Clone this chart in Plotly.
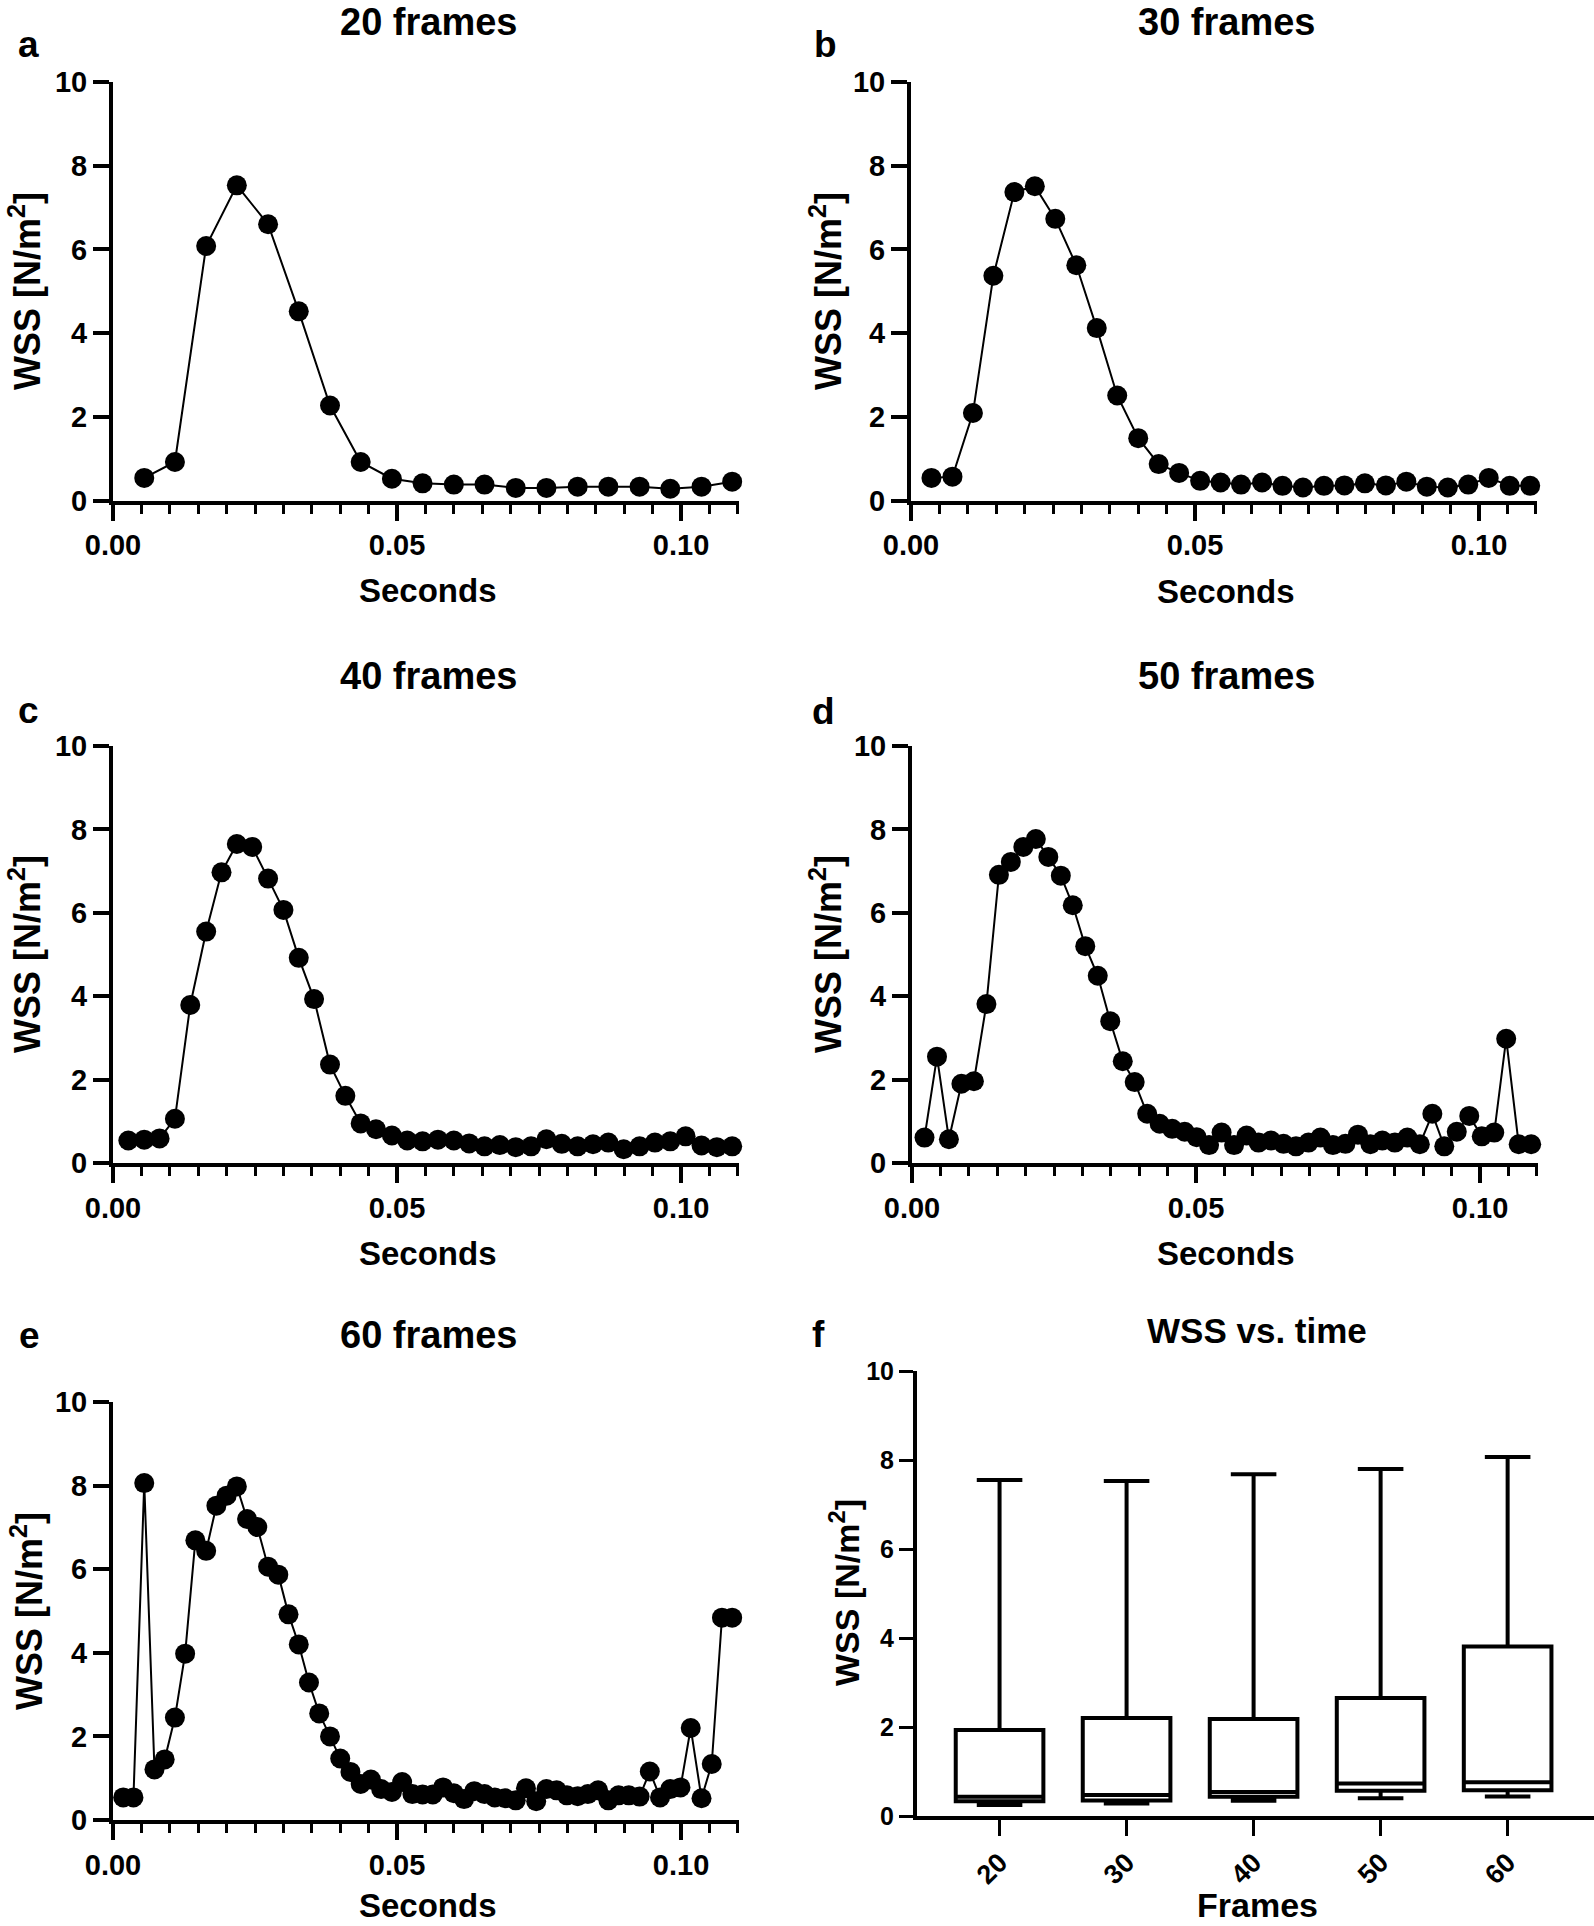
import plotly.graph_objects as go

# ---------------- data ----------------
T20 = [0.0055, 0.0109, 0.0164, 0.0218, 0.0273, 0.0327, 0.0382, 0.0436, 0.0491, 0.0545,
       0.0600, 0.0654, 0.0709, 0.0763, 0.0818, 0.0872, 0.0927, 0.0981, 0.1036, 0.1090]
WSS20 = [0.54, 0.92, 6.08, 7.53, 6.60, 4.52, 2.27, 0.92, 0.52, 0.41,
         0.38, 0.38, 0.30, 0.30, 0.33, 0.33, 0.33, 0.28, 0.33, 0.45]

T30 = [0.0036, 0.0073, 0.0109, 0.0145, 0.0182, 0.0218, 0.0254, 0.0291, 0.0327, 0.0363,
       0.0400, 0.0436, 0.0472, 0.0509, 0.0545, 0.0581, 0.0618, 0.0654, 0.0690, 0.0727,
       0.0763, 0.0799, 0.0836, 0.0872, 0.0908, 0.0945, 0.0981, 0.1017, 0.1054, 0.1090]
WSS30 = [0.54, 0.57, 2.09, 5.37, 7.37, 7.51, 6.73, 5.62, 4.12, 2.51,
         1.49, 0.87, 0.66, 0.47, 0.43, 0.38, 0.43, 0.35, 0.31, 0.35,
         0.36, 0.41, 0.36, 0.45, 0.33, 0.31, 0.38, 0.54, 0.35, 0.35]

T40 = [0.0027, 0.0055, 0.0082, 0.0109, 0.0136, 0.0164, 0.0191, 0.0218, 0.0245, 0.0273,
       0.0300, 0.0327, 0.0354, 0.0382, 0.0409, 0.0436, 0.0463, 0.0491, 0.0518, 0.0545,
       0.0572, 0.0600, 0.0627, 0.0654, 0.0681, 0.0709, 0.0736, 0.0763, 0.0790, 0.0818,
       0.0845, 0.0872, 0.0899, 0.0927, 0.0954, 0.0981, 0.1008, 0.1036, 0.1063, 0.1090]
WSS40 = [0.54, 0.56, 0.59, 1.06, 3.79, 5.55, 6.97, 7.65, 7.58, 6.82,
         6.07, 4.92, 3.93, 2.36, 1.61, 0.95, 0.81, 0.66, 0.54, 0.52,
         0.56, 0.54, 0.47, 0.40, 0.43, 0.38, 0.40, 0.57, 0.46, 0.40,
         0.45, 0.49, 0.33, 0.40, 0.49, 0.52, 0.64, 0.42, 0.38, 0.40]

T50 = [0.0022, 0.0044, 0.0065, 0.0087, 0.0109, 0.0131, 0.0153, 0.0174, 0.0196, 0.0218,
       0.0240, 0.0262, 0.0283, 0.0305, 0.0327, 0.0349, 0.0371, 0.0392, 0.0414, 0.0436,
       0.0458, 0.0480, 0.0501, 0.0523, 0.0545, 0.0567, 0.0589, 0.0610, 0.0632, 0.0654,
       0.0676, 0.0698, 0.0719, 0.0741, 0.0763, 0.0785, 0.0807, 0.0828, 0.0850, 0.0872,
       0.0894, 0.0916, 0.0937, 0.0959, 0.0981, 0.1003, 0.1025, 0.1046, 0.1068, 0.1090]
WSS50 = [0.61, 2.55, 0.57, 1.90, 1.96, 3.81, 6.91, 7.22, 7.58, 7.77,
         7.34, 6.89, 6.18, 5.20, 4.49, 3.40, 2.44, 1.94, 1.18, 0.94,
         0.82, 0.75, 0.62, 0.43, 0.73, 0.43, 0.66, 0.49, 0.54, 0.46,
         0.40, 0.49, 0.61, 0.43, 0.46, 0.68, 0.45, 0.54, 0.49, 0.61,
         0.45, 1.18, 0.40, 0.75, 1.13, 0.64, 0.73, 2.98, 0.45, 0.45]

T60 = [0.0018, 0.0036, 0.0055, 0.0073, 0.0091, 0.0109, 0.0127, 0.0145, 0.0164, 0.0182,
       0.0200, 0.0218, 0.0236, 0.0254, 0.0273, 0.0291, 0.0309, 0.0327, 0.0345, 0.0363,
       0.0382, 0.0400, 0.0418, 0.0436, 0.0454, 0.0472, 0.0491, 0.0509, 0.0527, 0.0545,
       0.0563, 0.0581, 0.0600, 0.0618, 0.0636, 0.0654, 0.0672, 0.0690, 0.0709, 0.0727,
       0.0745, 0.0763, 0.0781, 0.0799, 0.0818, 0.0836, 0.0854, 0.0872, 0.0890, 0.0908,
       0.0927, 0.0945, 0.0963, 0.0981, 0.0999, 0.1017, 0.1036, 0.1054, 0.1072, 0.1090]
WSS60 = [0.54, 0.54, 8.06, 1.21, 1.45, 2.45, 3.98, 6.69, 6.44, 7.52,
         7.76, 7.98, 7.20, 7.01, 6.06, 5.87, 4.92, 4.20, 3.29, 2.55,
         2.00, 1.47, 1.15, 0.86, 0.97, 0.74, 0.67, 0.91, 0.62, 0.61,
         0.61, 0.78, 0.64, 0.50, 0.69, 0.62, 0.54, 0.52, 0.47, 0.76,
         0.45, 0.74, 0.71, 0.59, 0.57, 0.62, 0.71, 0.47, 0.59, 0.59,
         0.56, 1.16, 0.54, 0.74, 0.78, 2.20, 0.52, 1.34, 4.84, 4.84]

FRAME_LABELS = ["20", "30", "40", "50", "60"]
BOX_MIN = [0.25, 0.28, 0.34, 0.40, 0.44]
BOX_Q1 = [0.33, 0.35, 0.43, 0.57, 0.58]
BOX_MEDIAN = [0.43, 0.47, 0.54, 0.73, 0.76]
BOX_Q3 = [1.93, 2.20, 2.18, 2.65, 3.81]
BOX_MAX = [7.55, 7.53, 7.68, 7.80, 8.07]

PANEL_TITLES = ["20 frames", "30 frames", "40 frames", "50 frames", "60 frames", "WSS vs. time"]
PANEL_LETTERS = ["a", "b", "c", "d", "e", "f"]
X_TITLE = "Seconds"
Y_TITLE = "WSS [N/m<sup>2</sup>]"
F_X_TITLE = "Frames"

# ---------------- layout helpers ----------------
W, H = 1594, 1926
FONT = "Liberation Sans, Arial, sans-serif"


def xd(a, b):
    return [a / W, b / W]


def yd(top, bottom):
    return [1 - bottom / H, 1 - top / H]


def px(x):
    return x / W


def py(y):
    return 1 - y / H


series = [(T20, WSS20), (T30, WSS30), (T40, WSS40), (T50, WSS50), (T60, WSS60)]
# (x_left, x_right, y_top, y_bottom) in pixels
boxes = [
    (113, 739, 82, 500.5),
    (911, 1537, 82, 500.5),
    (113, 739, 746, 1163),
    (912, 1538, 746, 1163),
    (113, 739, 1402, 1820),
]
F_BOX = (917, 1594, 1371, 1816)

fig = go.Figure()
layout = dict(
    template="none",
    width=W, height=H,
    margin=dict(l=0, r=0, t=0, b=0, pad=0, autoexpand=False),
    paper_bgcolor="white", plot_bgcolor="white",
    showlegend=False,
    font=dict(family=FONT, color="black"),
)

tickfont = dict(family=FONT, size=29, color="black", weight="bold")

for i, ((t, v), (x0, x1, y0, y1)) in enumerate(zip(series, boxes)):
    n = i + 1
    fig.add_trace(go.Scatter(
        x=t, y=v, mode="lines+markers",
        line=dict(color="black", width=2),
        marker=dict(color="black", size=20),
        cliponaxis=False,
        xaxis=f"x{n}", yaxis=f"y{n}",
    ))
    layout[f"xaxis{n}"] = dict(
        domain=xd(x0, x1), anchor=f"y{n}", range=[0, 0.1102],
        automargin=False,
        tick0=0, dtick=0.05, tickformat=".2f",
        ticks="outside", ticklen=16, tickwidth=4, tickcolor="black",
        showline=True, linewidth=4, linecolor="black",
        showgrid=False, zeroline=False, tickfont=tickfont,
        minor=dict(tick0=0, dtick=0.005, ticks="outside", ticklen=9,
                   tickwidth=3, tickcolor="black", showgrid=False),
    )
    layout[f"yaxis{n}"] = dict(
        domain=yd(y0, y1), anchor=f"x{n}", range=[0, 10],
        automargin=False,
        tick0=0, dtick=2,
        ticks="outside", ticklen=16, tickwidth=4, tickcolor="black",
        showline=True, linewidth=4, linecolor="black",
        showgrid=False, zeroline=False, tickfont=tickfont,
    )

# box plot panel f
fig.add_trace(go.Box(
    x=FRAME_LABELS, q1=BOX_Q1, median=BOX_MEDIAN, q3=BOX_Q3,
    lowerfence=BOX_MIN, upperfence=BOX_MAX,
    fillcolor="white", line=dict(color="black", width=4),
    whiskerwidth=0.52, width=0.69, boxpoints=False,
    xaxis="x6", yaxis="y6",
))
fx0, fx1, fy0, fy1 = F_BOX
ftick = dict(family=FONT, size=25, color="black", weight="bold")
fxtick = dict(family=FONT, size=27, color="black", weight="bold")
layout["xaxis6"] = dict(
    domain=xd(fx0, fx1), anchor="y6", type="category",
    range=[-0.65, 4.68], tickangle=-45, automargin=False,
    ticks="outside", ticklen=16, tickwidth=3, tickcolor="black",
    showline=True, linewidth=4, linecolor="black",
    showgrid=False, zeroline=False, tickfont=fxtick,
)
layout["yaxis6"] = dict(
    domain=yd(fy0, fy1), anchor="x6", range=[0, 10], tick0=0, dtick=2,
    automargin=False,
    ticks="outside", ticklen=14, tickwidth=3, tickcolor="black",
    showline=True, linewidth=4, linecolor="black",
    showgrid=False, zeroline=False, tickfont=ftick,
)

ann = []


def add_text(text, x, y, size, angle=0):
    ann.append(dict(
        text=text, x=px(x), y=py(y), xref="paper", yref="paper",
        xanchor="center", yanchor="middle", showarrow=False, textangle=angle,
        font=dict(family=FONT, size=size, color="black", weight="bold"),
    ))


# panel titles
title_pos = [(428, 21.5), (1226, 21.5), (428, 676), (1226, 676), (428, 1335), (1257, 1330)]
for txt, (x, y) in zip(PANEL_TITLES, title_pos):
    add_text(txt, x, y, 38 if txt != "WSS vs. time" else 35)

# panel letters
letter_pos = [(28, 45), (825, 45), (28, 710), (823, 712), (29, 1335), (819, 1334)]
for txt, (x, y) in zip(PANEL_LETTERS, letter_pos):
    add_text(txt, x, y, 37)

# x titles
sec_pos = [(428, 590), (1226, 591), (428, 1253), (1226, 1253), (428, 1905)]
for x, y in sec_pos:
    add_text(X_TITLE, x, y, 33)
add_text(F_X_TITLE, 1257, 1905, 34)

# y titles
ytitle_pos = [(25, 291), (826, 291), (25, 954), (826, 954), (27, 1611)]
for x, y in ytitle_pos:
    add_text(Y_TITLE, x, y, 36, angle=-90)
add_text(Y_TITLE, 844, 1593, 34, angle=-90)

layout["annotations"] = ann
fig.update_layout(**layout)
fig.write_html(
    "out.html",
    config={"displayModeBar": False},
    post_script="document.body.style.margin='0px';document.body.style.padding='0px';",
)
